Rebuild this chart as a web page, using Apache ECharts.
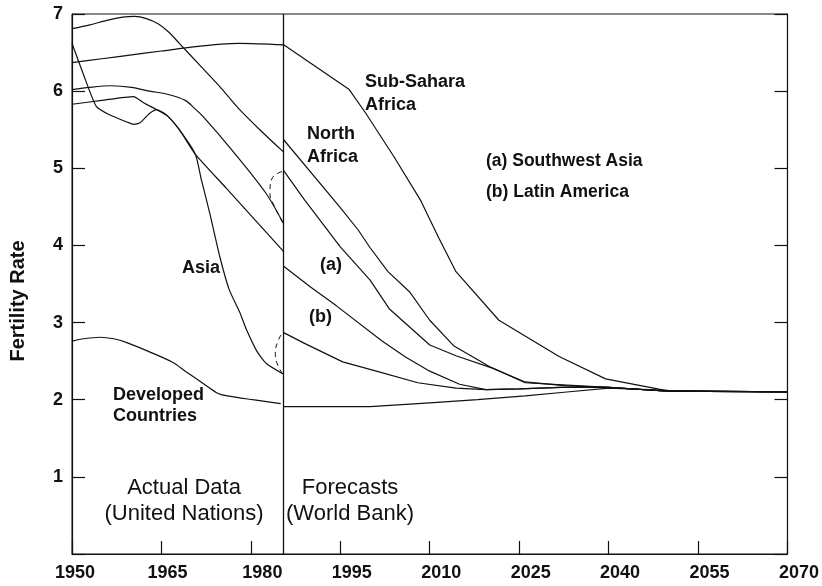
<!DOCTYPE html>
<html>
<head>
<meta charset="utf-8">
<script src="https://cdn.jsdelivr.net/npm/echarts@6/dist/echarts.min.js"></script>
<style>
  html, body { margin: 0; padding: 0; background: #fff; }
  #chart { width: 822px; height: 586px; }
</style>
</head>
<body>
<div id="chart"></div>
<script>
// Axis ranges
const yearMin = 1950, yearMax = 2070, yearStep = 15;
const rateMin = 0, rateMax = 7, rateStep = 1;
const forecastStart = 1985.5;

// Actual data (United Nations), [year, fertility rate]
const subSaharaActual = [[1950,6.37],[1955,6.42],[1960,6.47],[1965,6.52],[1970,6.57],[1975,6.61],[1978,6.62],[1985.5,6.6]];
const northAfricaActual = [[1950,6.81],[1953,6.86],[1956,6.92],[1958.5,6.96],[1960.5,6.97],[1962.5,6.94],[1964.5,6.87],[1966.3,6.76],[1968,6.62],[1971.5,6.33],[1975,6.04],[1978,5.77],[1981.5,5.5],[1985.5,5.21]];
const southwestAsiaActual = [[1950,6.02],[1953,6.05],[1956.5,6.07],[1960,6.05],[1963,6.0],[1966,5.96],[1969,5.88],[1970.5,5.78],[1972,5.67],[1977,5.22],[1982.5,4.68],[1985.5,4.28]];
const latinAmericaActual = [[1950,5.83],[1955,5.88],[1960.3,5.93],[1962,5.85],[1964.2,5.76],[1966,5.68],[1968,5.5],[1970.7,5.18],[1975.9,4.74],[1980,4.39],[1985.5,3.92]];
const asiaActual = [[1950,6.62],[1952,6.2],[1954.1,5.8],[1956.4,5.69],[1959.2,5.6],[1960.3,5.57],[1961.4,5.59],[1963,5.71],[1964.2,5.76],[1966,5.68],[1968,5.5],[1970.7,5.18],[1971.7,4.85],[1973.1,4.42],[1974.8,3.85],[1976.4,3.42],[1978.1,3.14],[1979.2,2.92],[1981,2.63],[1982.6,2.47],[1985.5,2.33]];
const developedActual = [[1950,2.76],[1952,2.79],[1954.7,2.81],[1957,2.79],[1959.2,2.74],[1963,2.62],[1967,2.48],[1969,2.37],[1972,2.21],[1974.5,2.08],[1976,2.05],[1980.3,2.0],[1985,1.95]];

// Forecasts (World Bank)
const subSaharaForecast = [[1985.5,6.6],[1996.5,6.02],[1999.3,5.71],[2004,5.15],[2008.5,4.58],[2011.5,4.1],[2014.4,3.66],[2021.6,3.03],[2031.7,2.56],[2039.5,2.27],[2049.5,2.12],[2070,2.1]];
const northAfricaForecast = [[1985.5,5.37],[1995,4.49],[1998,4.2],[2000,3.97],[2003,3.66],[2006.6,3.4],[2010,3.03],[2014,2.7],[2020,2.43],[2026,2.22],[2033,2.19],[2040,2.16],[2050,2.11],[2070,2.1]];
const southwestAsiaForecast = [[1985.5,4.97],[1989,4.59],[1995,3.98],[2000,3.55],[2003.2,3.18],[2010,2.71],[2014.4,2.57],[2020.5,2.41],[2026,2.23],[2033,2.18],[2040,2.16],[2050,2.11],[2070,2.1]];
const latinAmericaForecast = [[1985.5,3.73],[1990,3.46],[1994.3,3.22],[2002,2.76],[2006,2.55],[2010,2.37],[2015,2.2],[2019.4,2.13],[2025,2.14],[2032,2.16],[2040,2.16],[2050,2.11],[2070,2.1]];
const asiaForecast = [[1985.5,2.87],[1989,2.73],[1995.4,2.49],[2001.5,2.36],[2008,2.22],[2014.4,2.15],[2019.4,2.13],[2025,2.14],[2032,2.16],[2040,2.16],[2050,2.11],[2070,2.1]];
const developedForecast = [[1985.5,1.91],[2000,1.91],[2010,1.96],[2018,2.0],[2026,2.05],[2033,2.1],[2040,2.15],[2050,2.12],[2070,2.1]];

// Dashed joins between the last actual value and the first forecast value
const southwestAsiaJoin = [[1985.3,4.3],[1984.0,4.5],[1983.2,4.68],[1983.5,4.86],[1985.3,4.96]];
const asiaJoin = [[1985.3,2.34],[1984.5,2.45],[1984.1,2.6],[1984.5,2.75],[1985.3,2.87]];

// Annotation texts
const regionNames = ['Sub-Sahara', 'Africa', 'North', 'Africa', '(a) Southwest Asia', '(b) Latin America', '(a)', '(b)', 'Asia', 'Developed', 'Countries'];
const periodNames = ['Actual Data', '(United Nations)', 'Forecasts', '(World Bank)'];
const yTitle = 'Fertility Rate';

const FONT = '"Liberation Sans", Arial, Helvetica, sans-serif';
const INK = '#111';

function curve(data, smooth) {
  return {
    type: 'line', data: data, showSymbol: false, smooth: smooth || false,
    lineStyle: { color: INK, width: 1.2 }, silent: true, z: 3
  };
}
function join(data) {
  return {
    type: 'line', data: data, showSymbol: false, smooth: 0.5,
    lineStyle: { color: INK, width: 1, type: [5, 4] }, silent: true, z: 3
  };
}

const chart = echarts.init(document.getElementById('chart'), null, { renderer: 'canvas' });

const series = [
  curve(subSaharaActual, 0.3), curve(northAfricaActual, 0.3), curve(southwestAsiaActual, 0.3),
  curve(latinAmericaActual, 0.2), curve(asiaActual, 0.2), curve(developedActual, 0.3),
  curve(subSaharaForecast), curve(northAfricaForecast), curve(southwestAsiaForecast),
  curve(latinAmericaForecast), curve(asiaForecast), curve(developedForecast),
  join(southwestAsiaJoin), join(asiaJoin)
];
// vertical divider between actual data and forecasts
series[0].markLine = {
  silent: true, symbol: 'none', label: { show: false },
  lineStyle: { color: INK, width: 1.3, type: 'solid' },
  data: [{ xAxis: forecastStart }]
};

function txt(text, x, y, size, weight, align) {
  return {
    type: 'text', x: x, y: y, silent: true, z: 10,
    style: { text: text, fill: INK, font: (weight || 'bold') + ' ' + size + 'px ' + FONT,
             align: align || 'left', verticalAlign: 'middle' }
  };
}

const option = {
  animation: false,
  backgroundColor: '#fff',
  grid: { left: 72, right: 33, top: 14, bottom: 32, show: true, borderColor: INK, borderWidth: 1, backgroundColor: 'transparent' },
  xAxis: {
    type: 'value', min: yearMin, max: yearMax, interval: yearStep,
    axisLine: { show: true, lineStyle: { color: INK, width: 1.2 } },
    axisTick: { show: true, inside: true, length: 13, lineStyle: { color: INK, width: 1.2 } },
    splitLine: { show: false },
    axisLabel: {
      margin: 10, color: INK, fontFamily: FONT, fontWeight: 'bold', fontSize: 18,
      formatter: function (v) {
        const k = v === 1950 ? 's' : (v === 1965 ? 'm' : 'n');
        return '{' + k + '|' + v + '}';
      },
      rich: {
        s: { padding: [0, 0, 0, 6], fontFamily: FONT, fontWeight: 'bold', fontSize: 18, color: INK },
        m: { padding: [0, 0, 0, 12], fontFamily: FONT, fontWeight: 'bold', fontSize: 18, color: INK },
        n: { padding: [0, 0, 0, 23], fontFamily: FONT, fontWeight: 'bold', fontSize: 18, color: INK }
      }
    }
  },
  yAxis: [{
    type: 'value', min: rateMin, max: rateMax, interval: rateStep, position: 'left',
    axisLine: { show: true, lineStyle: { color: INK, width: 1.2 } },
    axisTick: { show: true, inside: true, length: 13, lineStyle: { color: INK, width: 1.2 } },
    splitLine: { show: false },
    axisLabel: {
      margin: 9, color: INK, fontFamily: FONT, fontWeight: 'bold', fontSize: 18,
      formatter: function (v) { return v === 0 ? '' : String(v); }
    }
  }, {
    type: 'value', min: rateMin, max: rateMax, interval: rateStep, position: 'right',
    axisLine: { show: true, lineStyle: { color: INK, width: 1.2 } },
    axisTick: { show: true, inside: true, length: 13, lineStyle: { color: INK, width: 1.2 } },
    splitLine: { show: false },
    axisLabel: { show: false }
  }],
  series: series,
  graphic: [
    txt(regionNames[0], 365, 82, 18), txt(regionNames[1], 365, 105, 18),
    txt(regionNames[2], 307, 134, 18), txt(regionNames[3], 307, 157, 18),
    txt(regionNames[4], 486, 161, 17.5), txt(regionNames[5], 486, 192, 17.5),
    txt(regionNames[6], 320, 265, 18), txt(regionNames[7], 309, 317, 18),
    txt(regionNames[8], 182, 268, 18),
    txt(regionNames[9], 113, 395, 18), txt(regionNames[10], 113, 416, 18),
    txt(periodNames[0], 184, 488, 22, 'normal', 'center'), txt(periodNames[1], 184, 514, 22, 'normal', 'center'),
    txt(periodNames[2], 350, 488, 22, 'normal', 'center'), txt(periodNames[3], 350, 514, 22, 'normal', 'center'),
    Object.assign(txt(yTitle, 18, 301, 20, 'bold', 'center'), { rotation: Math.PI / 2 })
  ]
};

chart.setOption(option);
</script>
</body>
</html>
